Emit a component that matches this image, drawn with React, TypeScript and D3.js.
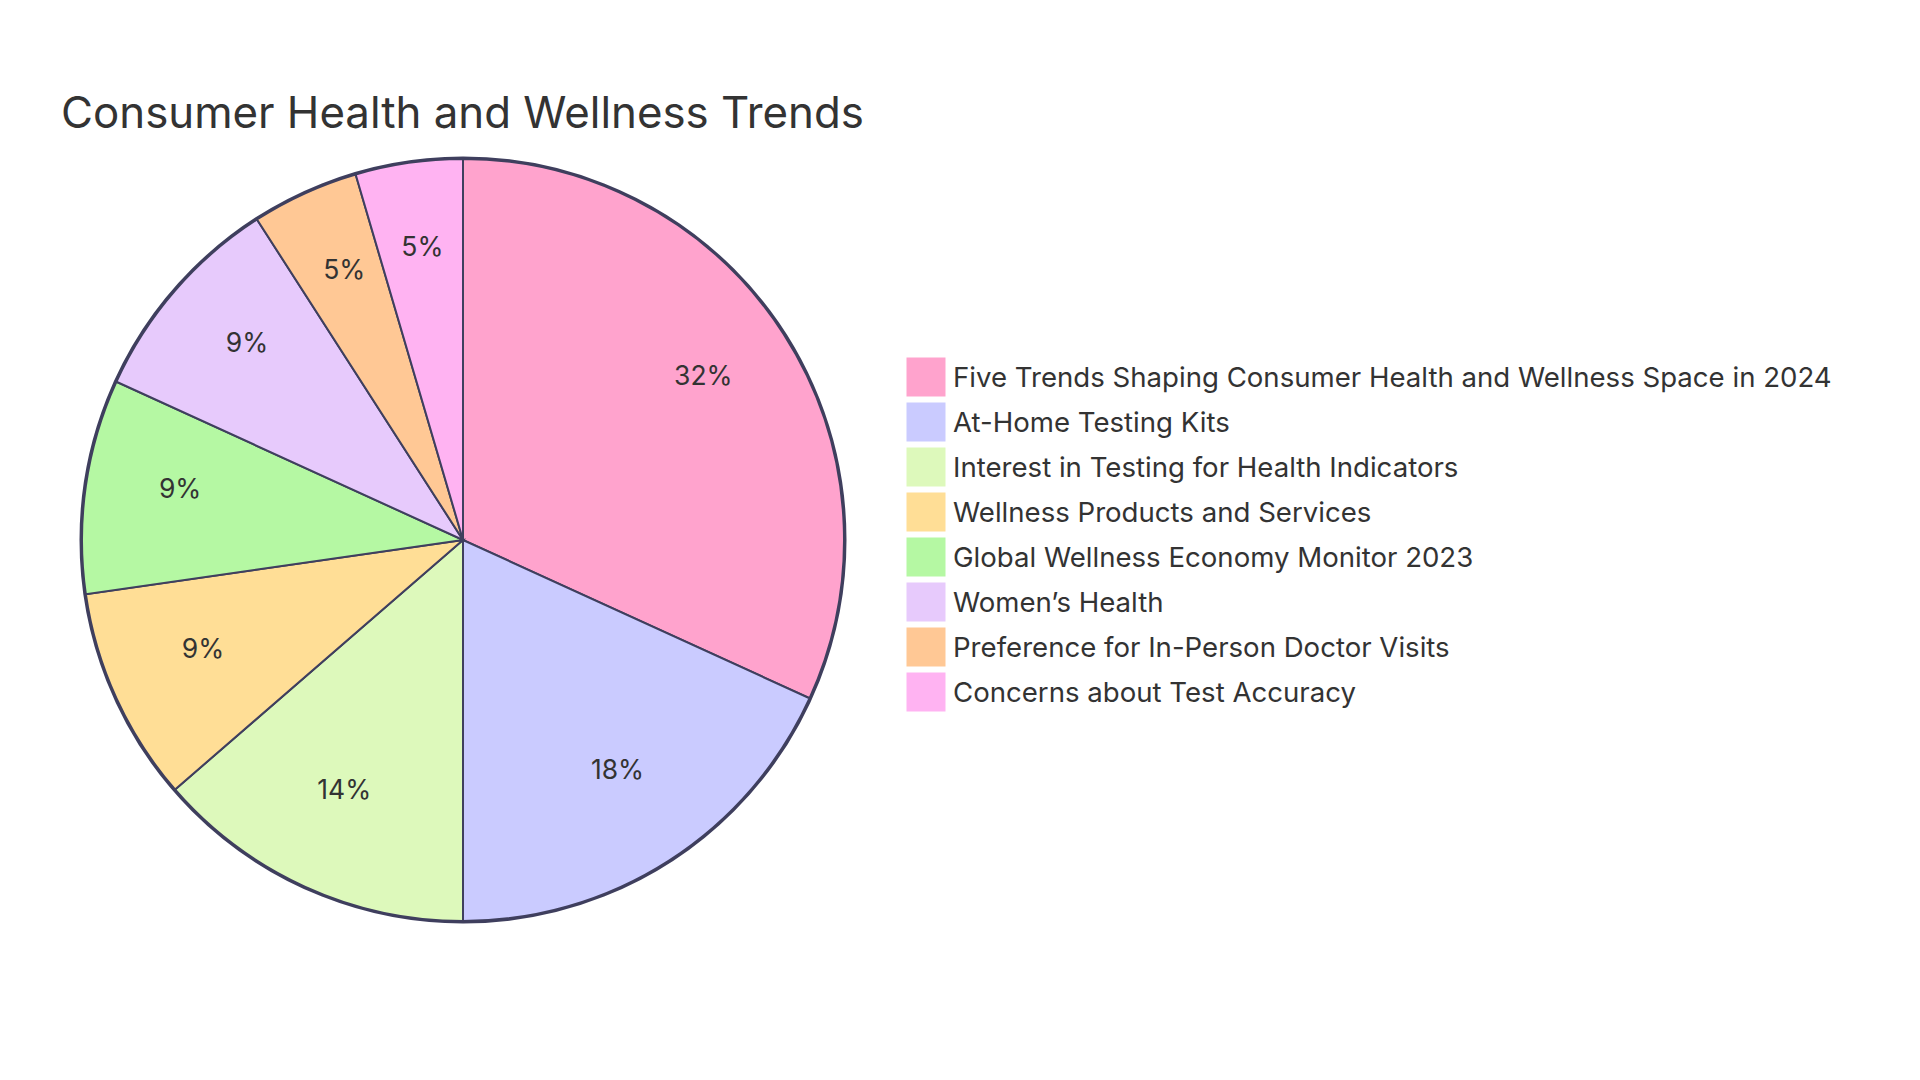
import React from 'react'
import * as d3 from 'd3'

const title = 'Consumer Health and Wellness Trends'

const categories = [
  'Five Trends Shaping Consumer Health and Wellness Space in 2024',
  'At-Home Testing Kits',
  'Interest in Testing for Health Indicators',
  'Wellness Products and Services',
  'Global Wellness Economy Monitor 2023',
  'Women\u2019s Health',
  'Preference for In-Person Doctor Visits',
  'Concerns about Test Accuracy',
]

const values = [7, 4, 3, 2, 2, 2, 1, 1]

const colors = ['#FFA3CD', '#CACBFF', '#DDF9BB', '#FFDE96', '#B5F8A3', '#E7CAFC', '#FFC895', '#FFB3F2']

const width = 1920
const height = 1080
const cx = 463
const cy = 540
const radius = 381
const font = 'Inter, "Noto Sans", sans-serif'

export default function App() {
  const total = d3.sum(values)
  const pie = d3.pie<number>().sort(null).value(d => d)
  const arcs = pie(values)
  const arcGen = d3.arc<d3.PieArcDatum<number>>().innerRadius(0).outerRadius(radius)
  const labelArc = d3.arc<d3.PieArcDatum<number>>().innerRadius(radius * 0.75).outerRadius(radius * 0.75)

  // legend rows
  const legendY = d3.scaleBand<number>().domain(d3.range(categories.length)).range([358, 358 + 45 * categories.length])

  return (
    <svg width={width} height={height} style={{ position: 'absolute', left: 0, top: 0, background: '#fff' }}>
      <text x={61} y={128} fontFamily={font} fontSize={43.8} fill="#333">
        {title}
      </text>
      <g transform={`translate(${cx},${cy})`}>
        <circle r={radius + 1} fill="none" stroke="#3F3F5E" strokeWidth={3} />
        {arcs.map((a, i) => (
          <path key={i} d={arcGen(a) || ''} fill={colors[i]} stroke="#3F3F5E" strokeWidth={2} />
        ))}
        {arcs.map((a, i) => {
          const [x, y] = labelArc.centroid(a)
          return (
            <text key={i} x={x} y={y - 11} textAnchor="middle" dominantBaseline="central" fontFamily={font} fontSize={26.5} fill="#333">
              {((a.data / total) * 100).toFixed(0) + '%'}
            </text>
          )
        })}
      </g>
      <g>
        {categories.map((c, i) => (
          <g key={c} transform={`translate(907,${legendY(i)})`}>
            <rect width={38} height={38} fill={colors[i]} stroke={colors[i]} />
            <text x={46} y={19} dominantBaseline="central" fontFamily={font} fontSize={27.6} fill="#333">
              {c}
            </text>
          </g>
        ))}
      </g>
    </svg>
  )
}
